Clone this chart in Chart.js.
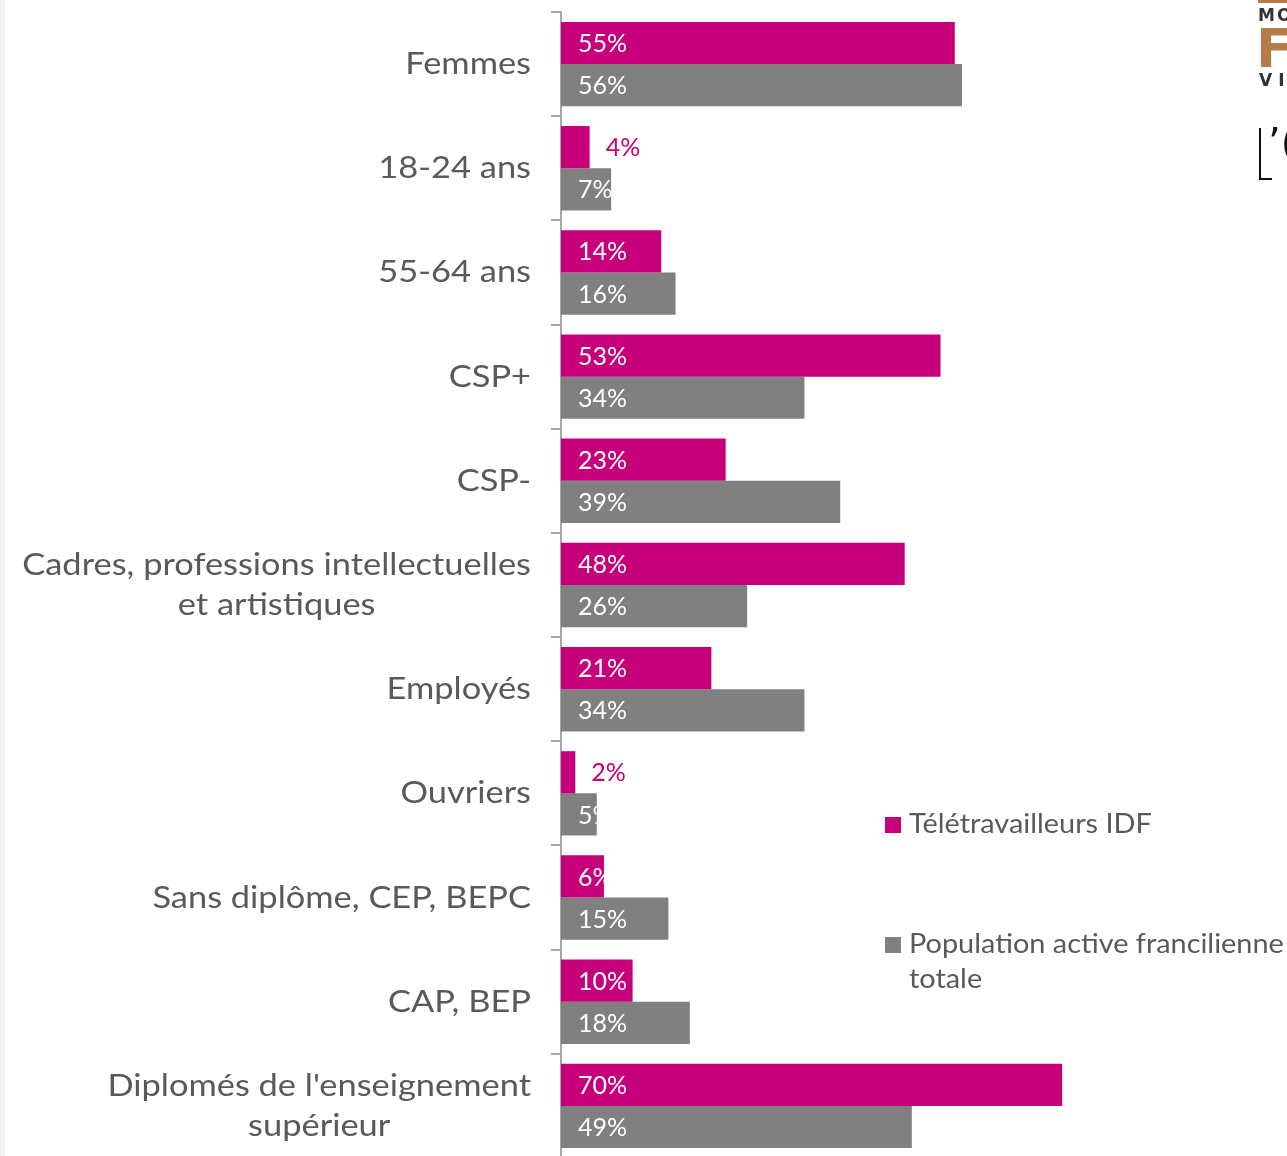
<!DOCTYPE html>
<html>
<head>
<meta charset="utf-8">
<script src="https://cdn.jsdelivr.net/npm/chart.js@4.4.0/dist/chart.umd.min.js"></script>
<style>
  body { margin: 0; background: #fff; overflow: hidden; }
  #wrap { position: relative; width: 1287px; height: 1156px; }
  #barchart { position: absolute; left: 0; top: 0; }
  .strip { position: absolute; left: 0; top: 0; width: 5px; height: 1156px; background: #f0f0f0; }
  .logo { position: absolute; font-family: 'DejaVu Sans', sans-serif; white-space: nowrap; }
</style>
</head>
<body>
<div id="wrap">
  <canvas id="barchart" width="1287" height="1170"></canvas>
  <div class="strip"></div>
  <div class="logo" style="left:1258px;top:0;width:29px;height:3px;background:#b57c4a"></div>
  <div class="logo" style="left:1258px;top:5px;font-size:17px;font-weight:bold;color:#333;letter-spacing:2px">MO</div>
  <div class="logo" style="left:1256px;top:17px;font-size:54px;font-weight:bold;color:#b57c4a">F</div>
  <div class="logo" style="left:1259px;top:70px;font-size:17px;font-weight:bold;color:#333;letter-spacing:6px">VI</div>
  <div class="logo" style="left:1259px;top:128px;width:11px;height:50px;border-left:2px solid #111;border-bottom:2px solid #111"></div>
  <div class="logo" style="left:1268px;top:120px;font-size:40px;color:#111">’(</div>
</div>
<script>
// Chart data
const categories = [
    'Femmes',
    '18-24 ans',
    '55-64 ans',
    'CSP+',
    'CSP-',
    ['Cadres, professions intellectuelles', 'et artistiques'],
    'Employés',
    'Ouvriers',
    'Sans diplôme, CEP, BEPC',
    'CAP, BEP',
    ["Diplomés de l'enseignement", 'supérieur']
];
const teletravailleurs = [55, 4, 14, 53, 23, 48, 21, 2, 6, 10, 70];
const populationActive = [56, 7, 16, 34, 39, 26, 34, 5, 15, 18, 49];
const seriesNames = ['Télétravailleurs IDF', 'Population active francilienne totale'];
const seriesColors = ['#C5007A', '#808080'];

const textColor = '#595959';
const fontFamily = 'Lato, "Open Sans", sans-serif';
const stretch = 1.11; // Lato is narrower than the original geometric font

// Category labels drawn by hand so the two-line ones are centred as a block
const categoryLabels = {
    id: 'categoryLabels',
    afterDraw(chart) {
        const ctx = chart.ctx;
        const yScale = chart.scales.y;
        const right = chart.chartArea.left - 30;
        ctx.save();
        ctx.font = '31px ' + fontFamily;
        ctx.fillStyle = textColor;
        ctx.textBaseline = 'middle';
        ctx.textAlign = 'center';
        categories.forEach(function (label, i) {
            const lines = Array.isArray(label) ? label : [label];
            const maxW = Math.max(...lines.map(l => ctx.measureText(l).width)) * stretch;
            const cx = right - maxW / 2;
            const cy = yScale.getPixelForValue(i);
            const lh = 40;
            lines.forEach(function (line, j) {
                ctx.save();
                ctx.translate(cx, cy + (j - (lines.length - 1) / 2) * lh);
                ctx.scale(stretch, 1);
                ctx.fillText(line, 0, 0);
                ctx.restore();
            });
        });
        ctx.restore();
    }
};

// Value labels: white inside the bar (clipped), magenta outside for tiny bars
const valueLabels = {
    id: 'valueLabels',
    afterDatasetsDraw(chart) {
        const ctx = chart.ctx;
        ctx.save();
        ctx.font = '25px ' + fontFamily;
        ctx.textBaseline = 'middle';
        ctx.textAlign = 'left';
        chart.data.datasets.forEach(function (ds, di) {
            const meta = chart.getDatasetMeta(di);
            meta.data.forEach(function (bar, i) {
                const value = ds.data[i];
                const text = value + '%';
                const top = bar.y - bar.height / 2;
                if (di === 0 && value < 5) {
                    ctx.fillStyle = seriesColors[0];
                    ctx.fillText(text, bar.x + 16, bar.y + 1);
                } else {
                    ctx.save();
                    ctx.beginPath();
                    ctx.rect(bar.base, top, bar.x - bar.base, bar.height);
                    ctx.clip();
                    ctx.fillStyle = '#ffffff';
                    ctx.fillText(text, bar.base + 17, bar.y + 1);
                    ctx.restore();
                }
            });
        });
        ctx.restore();
    }
};

// Legend on the right, wrapped text
const sideLegend = {
    id: 'sideLegend',
    afterDraw(chart) {
        const ctx = chart.ctx;
        const boxX = 885, textX = 909, maxW = 378, lh = 35;
        const rows = [825, 945];
        ctx.save();
        ctx.font = '26px ' + fontFamily;
        ctx.textBaseline = 'middle';

        function drawLine(text, y) {
            ctx.save();
            ctx.translate(textX, y);
            ctx.scale(stretch, 1);
            ctx.fillText(text, 0, 0);
            ctx.restore();
        }

        chart.data.datasets.forEach(function (ds, di) {
            const y = rows[di];
            ctx.fillStyle = ds.backgroundColor;
            ctx.fillRect(boxX, y - 8, 16, 16);
            ctx.fillStyle = textColor;
            // simple word wrap
            const words = ds.label.split(' ');
            let line = '';
            let ly = y;
            words.forEach(function (w) {
                const test = line ? line + ' ' + w : w;
                if (ctx.measureText(test).width * stretch > maxW && line) {
                    drawLine(line, ly);
                    line = w;
                    ly += lh;
                } else {
                    line = test;
                }
            });
            drawLine(line, ly);
        });
        ctx.restore();
    }
};

const ctx = document.getElementById('barchart').getContext('2d');

const barchart = new Chart(ctx, {
    type: 'bar',
    data: {
        labels: categories,
        datasets: [{
            label: seriesNames[0],
            data: teletravailleurs,
            backgroundColor: seriesColors[0],
            categoryPercentage: 0.81,
            barPercentage: 1.0
        }, {
            label: seriesNames[1],
            data: populationActive,
            backgroundColor: seriesColors[1],
            categoryPercentage: 0.81,
            barPercentage: 1.0
        }]
    },
    options: {
        indexAxis: 'y',
        responsive: false,
        animation: false,
        layout: {
            padding: { top: 12, right: 10, bottom: 12, left: 0 }
        },
        plugins: {
            legend: { display: false },
            tooltip: { enabled: false }
        },
        scales: {
            x: {
                display: false,
                min: 0,
                max: 100
            },
            y: {
                grid: {
                    drawOnChartArea: false,
                    drawTicks: true,
                    tickLength: 10,
                    color: '#A6A6A6',
                    lineWidth: 2
                },
                border: { color: '#A6A6A6', width: 2 },
                ticks: { display: false },
                afterFit: function (scale) {
                    scale.width = 561;
                }
            }
        }
    },
    plugins: [valueLabels, categoryLabels, sideLegend]
});
</script>
</body>
</html>
